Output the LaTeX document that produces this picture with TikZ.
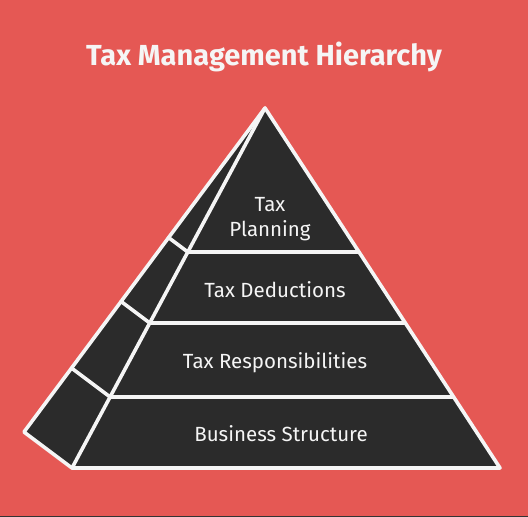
\documentclass[tikz,border=0pt]{standalone}
\usepackage{fontspec}
\setmainfont{Fira Sans}
\definecolor{bgred}{RGB}{229,88,84}
\definecolor{darkfill}{RGB}{43,43,43}
\definecolor{chalk}{RGB}{245,245,245}
\tikzset{
  edge/.style={draw=chalk, line width=3.6pt, line cap=round, line join=round},
  lbl/.style={text=chalk, font=\fontsize{20.5}{25}\selectfont, align=center},
  ttl/.style={text=chalk, font=\fontsize{29}{33}\selectfont\bfseries},
}
\begin{document}
\begin{tikzpicture}[x=1pt,y=-1pt]
\fill[bgred] (0,0) rectangle (528,517);
\useasboundingbox (0,0) rectangle (528,517);
\draw[black!80, line width=1pt] (0,516.5) -- (528,516.5);
% points
\coordinate (A) at (265,108);
\coordinate (I1) at (187.8,252); \coordinate (R1) at (359,252); \coordinate (O1) at (168.6,237.6);
\coordinate (I2) at (149.8,323); \coordinate (R2) at (405.4,323); \coordinate (O2) at (121.1,301.5);
\coordinate (I3) at (110.1,397); \coordinate (R3) at (453.7,397); \coordinate (O3) at (71.6,368.1);
\coordinate (I4) at (72,468);    \coordinate (R4) at (500,468);  \coordinate (O4) at (24,432);
% body
\fill[darkfill] (A) -- (O4) -- (I4) -- (R4) -- cycle;
\draw[edge] (A) -- (O4) -- (I4) -- (R4) -- cycle;
\draw[edge] (A) -- (I4);
\draw[edge] (O1) -- (I1) -- (R1);
\draw[edge] (O2) -- (I2) -- (R2);
\draw[edge] (O3) -- (I3) -- (R3);
% labels
\node[ttl] (title) at (264,57) {Tax Management Hierarchy};
\node[lbl] (plan) at (270,219) {Tax\\Planning};
\node[lbl] (ded) at (275,290) {Tax Deductions};
\node[lbl] (resp) at (275,363) {Tax Responsibilities};
\node[lbl] (bus) at (281,434) {Business Structure};
\end{tikzpicture}
\end{document}
